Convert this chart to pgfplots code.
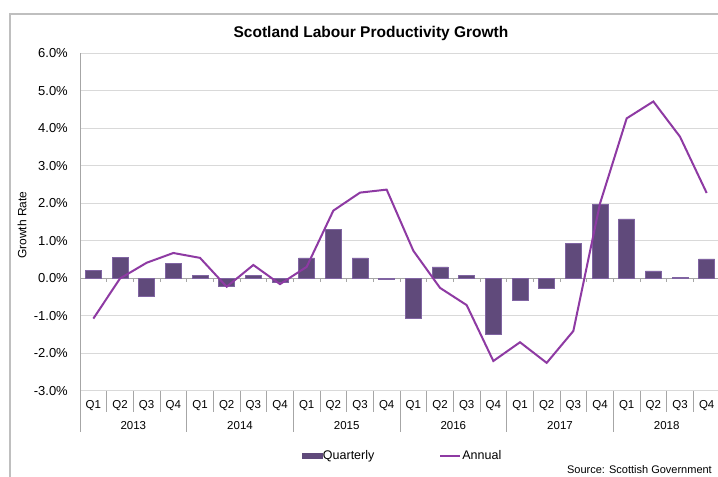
\documentclass[border=0pt]{standalone}
\usepackage{pgfplots}
\pgfplotsset{compat=1.18}
\usepackage{fontspec}
\setmainfont{Liberation Sans}
\definecolor{barcol}{HTML}{604A7B}
\definecolor{baredge}{HTML}{8064A2}
\definecolor{linecol}{HTML}{8E3AA3}
\definecolor{gridcol}{HTML}{D9D9D9}
\definecolor{axcol}{HTML}{A6A6A6}
\definecolor{framecol}{HTML}{BFBFBF}
\begin{document}
\begin{tikzpicture}[x=1bp,y=1bp]
\useasboundingbox (0,0) rectangle (718,477);
\fill[white] (0,0) rectangle (718,477);
\draw[framecol, line width=1.5bp] (10,-20) -- (10,463) -- (740,463);
\begin{axis}[
  at={(80bp,86bp)}, anchor=south west, scale only axis,
  width=640bp, height=337.5bp,
  xmin=-0.5, xmax=23.5, ymin=-3, ymax=6,
  axis line style={draw=none},
  ytick={-3,...,6},
  yticklabels={-3.0\%,-2.0\%,-1.0\%,0.0\%,1.0\%,2.0\%,3.0\%,4.0\%,5.0\%,6.0\%},
  ymajorgrids, grid style={gridcol, line width=1bp},
  major tick length=0pt,
  tick style={draw=none},
  yticklabel style={anchor=east, inner sep=0pt, xshift=-12bp, font=\fontsize{13bp}{15bp}\selectfont},
  xtick={0,...,23},
  xticklabels={Q1,Q2,Q3,Q4,Q1,Q2,Q3,Q4,Q1,Q2,Q3,Q4,Q1,Q2,Q3,Q4,Q1,Q2,Q3,Q4,Q1,Q2,Q3,Q4},
  xticklabel style={anchor=north, inner sep=0pt, yshift=-9.5bp, font=\fontsize{11.5bp}{14bp}\selectfont},
  extra x ticks={1.5,5.5,9.5,13.5,17.5,21.5},
  extra x tick labels={2013,2014,2015,2016,2017,2018},
  extra x tick style={grid=none, xticklabel style={yshift=-21bp}},
  legend style={at={(0.503,-0.193)}, anchor=center, draw=none, fill=none,
    legend columns=2, font=\fontsize{12.5bp}{15bp}\selectfont,
    /tikz/every even column/.append style={column sep=64bp},
    nodes={inner sep=1bp}},
  legend cell align=left,
]
\draw[axcol, line width=1bp] (axis cs:-0.5,0) -- (axis cs:23.5,0);
\addplot[ybar, bar width=0.6, fill=barcol, draw=baredge, line width=0.4bp,
  legend image code/.code={\fill[barcol] (0bp,-2.5bp) rectangle (20bp,2.5bp);}]
  coordinates {
  (0,0.22) (1,0.57) (2,-0.47) (3,0.41)
  (4,0.08) (5,-0.20) (6,0.08) (7,-0.09)
  (8,0.55) (9,1.31) (10,0.55) (11,-0.02)
  (12,-1.07) (13,0.31) (14,0.08) (15,-1.49)
  (16,-0.57) (17,-0.25) (18,0.94) (19,1.97)
  (20,1.59) (21,0.20) (22,0.03) (23,0.52)};
\addlegendentry{Quarterly}
\addplot[linecol, line width=2bp, mark=none,
  legend image code/.code={\draw[linecol,line width=2bp] (0bp,0bp) -- (20bp,0bp);}]
  coordinates {
  (0,-1.07) (1,0.00) (2,0.42) (3,0.68)
  (4,0.55) (5,-0.22) (6,0.36) (7,-0.15)
  (8,0.31) (9,1.81) (10,2.29) (11,2.37)
  (12,0.74) (13,-0.25) (14,-0.71) (15,-2.20)
  (16,-1.70) (17,-2.25) (18,-1.40) (19,2.00)
  (20,4.27) (21,4.72) (22,3.78) (23,2.28)};
\addlegendentry{Annual}
\end{axis}
% axis decorations: left axis line, zero-line ticks, category separators
\draw[axcol, line width=1bp] (80,45) -- (80,423.5);
\foreach \k in {0,...,24}{
  \draw[axcol, line width=1bp] ({80+26.6667*\k},198.5) -- ({80+26.6667*\k},194.5);
  \draw[axcol, line width=1bp] ({80+26.6667*\k},86) -- ({80+26.6667*\k},65);
}
\foreach \k in {4,8,12,16,20,24}{
  \draw[axcol, line width=1bp] ({80+26.6667*\k},65) -- ({80+26.6667*\k},45);
}
\node[anchor=base, font=\bfseries\fontsize{15.5bp}{18bp}\selectfont] at (371,439) {Scotland Labour Productivity Growth};
\node[rotate=90, font=\fontsize{12bp}{14bp}\selectfont] at (22,252) {Growth Rate};
\node[anchor=base east, inner sep=0pt, font=\fontsize{11bp}{13bp}\selectfont] at (712,3.5) {Source: Scottish Government};
\end{tikzpicture}
\end{document}
